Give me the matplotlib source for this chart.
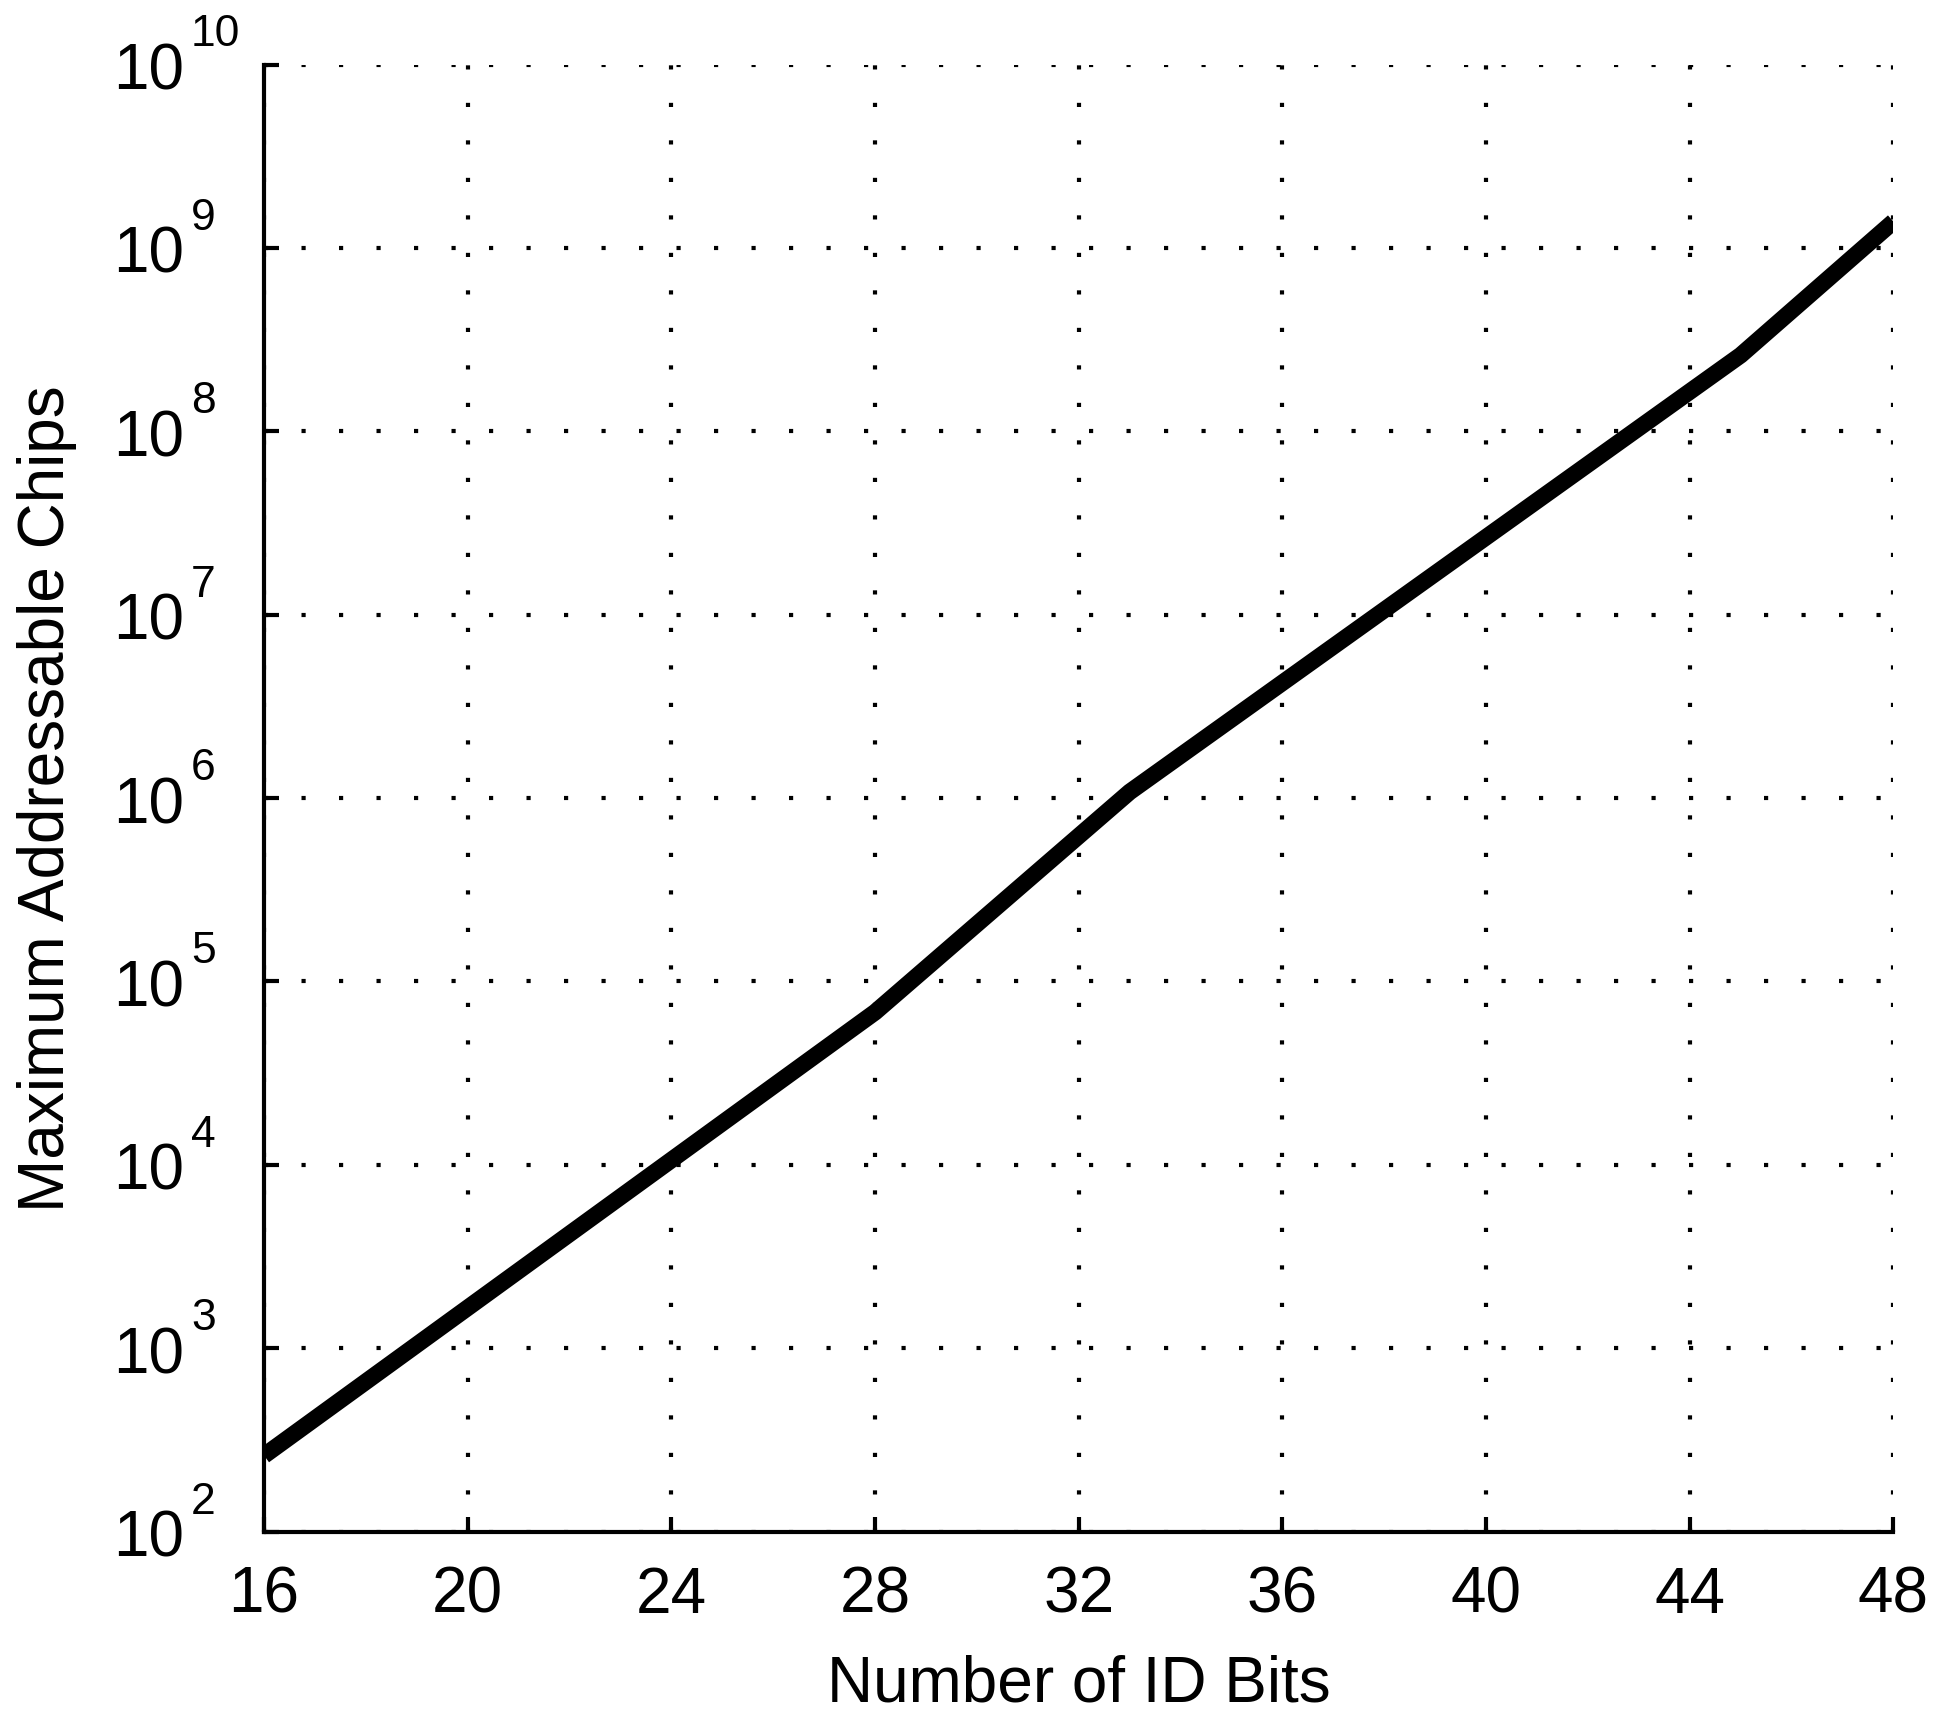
import numpy as np
import matplotlib
matplotlib.use("Agg")
from matplotlib import pyplot as plt
from matplotlib.ticker import FixedLocator, NullFormatter

# data
id_bits = [16, 28, 33, 45, 48]
max_chips = [2.6e2, 6.8e4, 1.08e6, 2.6e8, 1.39e9]

x_ticks = [16, 20, 24, 28, 32, 36, 40, 44, 48]
y_exponents = list(range(2, 11))

plt.rcParams['font.family'] = ['Liberation Sans', 'DejaVu Sans']

fig = plt.figure(figsize=(19.42, 17.24), dpi=100)
ax = fig.add_axes([0.136, 0.111, 0.839, 0.851])

ax.plot(id_bits, max_chips, color='black', linewidth=12, solid_capstyle='butt',
        solid_joinstyle='round', zorder=3)

ax.set_yscale('log')
ax.set_xlim(16, 48)
ax.set_ylim(1e2, 1e10)
ax.xaxis.set_major_locator(FixedLocator(x_ticks))
ax.yaxis.set_major_locator(FixedLocator([10.0 ** e for e in y_exponents]))
ax.yaxis.set_minor_locator(FixedLocator([]))
ax.yaxis.set_major_formatter(NullFormatter())

# matlab style labels: big "10" and a raised exponent
ytrans = ax.get_yaxis_transform()
for e in y_exponents:
    ax.annotate('10', xy=(0, 10.0 ** e), xycoords=ytrans, xytext=(-57.6, -17.3),
                textcoords='offset points', ha='right', va='baseline', fontsize=46,
                annotation_clip=False)
    ax.annotate(str(e), xy=(0, 10.0 ** e), xycoords=ytrans, xytext=(-52.6, 13.7),
                textcoords='offset points', ha='left', va='baseline', fontsize=32,
                annotation_clip=False)

ax.grid(True, color='black', linestyle=(0, (1, 8)), linewidth=3)

for side in ['top', 'right']:
    ax.spines[side].set_visible(False)
for side in ['left', 'bottom']:
    ax.spines[side].set_linewidth(3)

ax.tick_params(direction='in', length=11, width=3, labelsize=46)
ax.tick_params(axis='x', pad=24)

ax.set_xlabel('Number of ID Bits', fontsize=46)
ax.set_ylabel('Maximum Addressable Chips', fontsize=46)
ax.xaxis.set_label_coords(0.5, -0.083)
ax.yaxis.set_label_coords(-0.115, 0.5)

fig.savefig('out.png', dpi=100)
